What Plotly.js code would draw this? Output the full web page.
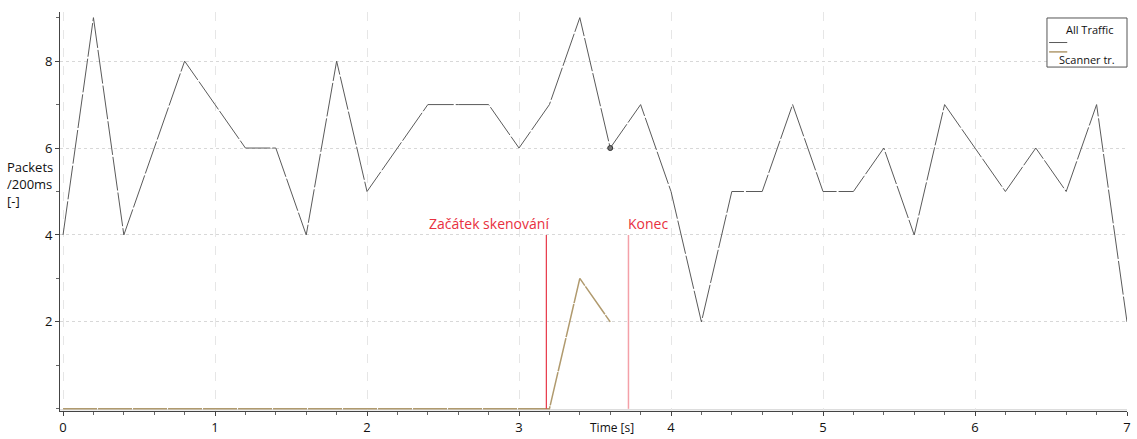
<!DOCTYPE html>
<html><head><meta charset="utf-8">
<script src="https://cdn.plot.ly/plotly-3.0.1.min.js"></script>
<style>html,body{margin:0;padding:0;background:#fff}#c{width:1137px;height:439px}</style>
</head><body><div id="c"></div>
<script>
const time = [0,0.2,0.4,0.6,0.8,1.0,1.2,1.4,1.6,1.8,2.0,2.2,2.4,2.6,2.8,3.0,3.2,3.4,3.6,3.8,4.0,4.2,4.4,4.6,4.8,5.0,5.2,5.4,5.6,5.8,6.0,6.2,6.4,6.6,6.8,7.0];
const allTraffic = [4,9,4,6,8,7,6,6,4,8,5,6,7,7,7,6,7,9,6,7,5,2,5,5,7,5,5,6,4,7,6,5,6,5,7,2];
const scanTime = [0,0.2,0.4,0.6,0.8,1.0,1.2,1.4,1.6,1.8,2.0,2.2,2.4,2.6,2.8,3.0,3.2,3.4,3.6];
const scanner = [0,0,0,0,0,0,0,0,0,0,0,0,0,0,0,0,0,3,2];
const markTime = [3.6];
const markVal = [6];
const eventTimes = [3.18, 3.72];
const eventLabels = ["Začátek skenování", "Konec"];
const xTicks = [0,1,2,3,4,5,6,7];
const yTicks = [2,4,6,8];
const legendNames = ["All Traffic", "Scanner tr."];

const font = "Open Sans, Liberation Sans, sans-serif";
const traces = [
  {x: time, y: allTraffic, mode: "lines", line: {color: "#5a5a5a", width: 1, dash: "34px,2px"}, showlegend: false, hoverinfo: "skip"},
  {x: scanTime, y: scanner, mode: "lines", line: {color: "#b09a6e", width: 1.5, dash: "34px,1px"}, showlegend: false, hoverinfo: "skip"},
  {x: markTime, y: markVal, mode: "markers", marker: {color: "#777", size: 5, line: {color: "#333", width: 1}}, showlegend: false, hoverinfo: "skip"}
];
const shapes = [
  {type: "line", xref: "x", yref: "y", x0: eventTimes[0], x1: eventTimes[0], y0: 0, y1: 4, line: {color: "#e84050", width: 1.3}},
  {type: "line", xref: "x", yref: "y", x0: eventTimes[1], x1: eventTimes[1], y0: 0, y1: 4, line: {color: "#f4a0a8", width: 1.5}},
  {type: "line", xref: "paper", yref: "y", x0: 0, x1: 1, y0: -0.02, y1: -0.02, line: {color: "#dddddd", width: 1.5}, layer: "below"},
  {type: "rect", xref: "paper", yref: "paper", x0: 0.925, x1: 1.0, y0: 0.862, y1: 0.985, line: {color: "#555", width: 1}, fillcolor: "#fff"},
  {type: "line", xref: "paper", yref: "paper", x0: 0.927, x1: 0.944, y0: 0.9235, y1: 0.9235, line: {color: "#5a5a5a", width: 1}},
  {type: "line", xref: "paper", yref: "paper", x0: 0.927, x1: 0.944, y0: 0.900, y1: 0.900, line: {color: "#b09a6e", width: 1.5}}
];
const annotations = [
  {xref: "x", yref: "y", x: eventTimes[0], y: 4, text: eventLabels[0], showarrow: false, xanchor: "right", yanchor: "bottom", xshift: 5, font: {family: font, size: 14, color: "#e83040"}},
  {xref: "x", yref: "y", x: eventTimes[1], y: 4, text: eventLabels[1], showarrow: false, xanchor: "left", yanchor: "bottom", xshift: -2, font: {family: font, size: 14, color: "#e83040"}},
  {xref: "paper", yref: "paper", x: -0.052, y: 0.57, text: "Packets<br>/200ms<br>[-]", align: "left", showarrow: false, xanchor: "left", yanchor: "middle", font: {family: font, size: 13, color: "#111"}},
  {xref: "paper", yref: "paper", x: 0.941, y: 0.955, text: legendNames[0], showarrow: false, xanchor: "left", yanchor: "middle", font: {family: font, size: 11, color: "#111"}},
  {xref: "paper", yref: "paper", x: 0.934, y: 0.88, text: legendNames[1], showarrow: false, xanchor: "left", yanchor: "middle", font: {family: font, size: 11, color: "#111"}},
  {xref: "paper", yref: "paper", x: 0.495, y: -0.068, text: "Time [s]", showarrow: false, xanchor: "left", yanchor: "bottom", font: {family: font, size: 12, color: "#111"}}
];
const layout = {
  width: 1137, height: 439,
  margin: {l: 60, r: 10, t: 12, b: 28},
  paper_bgcolor: "#fff", plot_bgcolor: "#fff",
  xaxis: {range: [-0.02, 7.0], tickvals: xTicks, ticktext: xTicks.map(String), showgrid: true, gridcolor: "#e6e6e6", griddash: "dash", gridwidth: 1,
    zeroline: false, showline: true, linecolor: "#444", linewidth: 1, ticks: "outside", ticklen: 4, tickcolor: "#444",
    minor: {dtick: 0.2, ticks: "outside", ticklen: 3, tickcolor: "#666", showgrid: false},
    tickfont: {family: font, size: 13, color: "#111"}, fixedrange: true},
  yaxis: {range: [-0.05, 9.13], tickvals: yTicks, ticktext: yTicks.map(String), showgrid: true, gridcolor: "#d8d8d8", griddash: "dot", gridwidth: 1,
    zeroline: false, showline: true, linecolor: "#444", linewidth: 1, ticks: "outside", ticklen: 4, tickcolor: "#444",
    minor: {dtick: 1, ticks: "outside", ticklen: 3, tickcolor: "#666", showgrid: false},
    tickfont: {family: font, size: 13, color: "#111"}, fixedrange: true},
  shapes: shapes, annotations: annotations, showlegend: false
};
Plotly.newPlot("c", traces, layout, {staticPlot: true, displayModeBar: false});
</script></body></html>
